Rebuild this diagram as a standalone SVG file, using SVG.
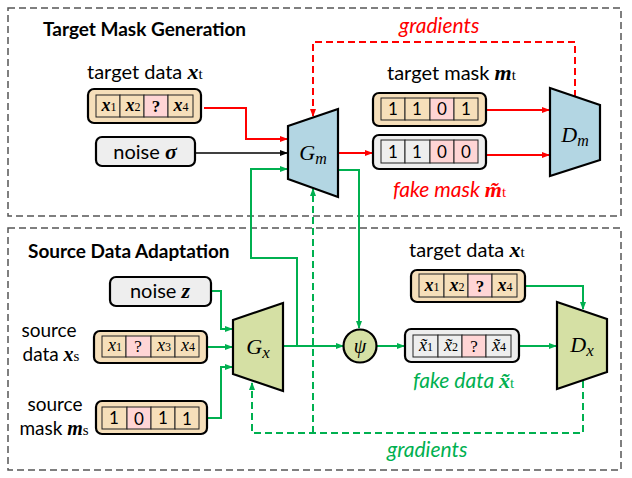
<svg xmlns="http://www.w3.org/2000/svg" width="632" height="478" viewBox="0 0 632 478">
<defs>
<style>
.frame{fill:none;stroke:#555;stroke-width:1.5;stroke-dasharray:7 4}
.title{font-family:Lato,"Liberation Sans",sans-serif;font-weight:bold;font-size:19px;fill:#000}
.lbl{font-family:Lato,"Liberation Sans",sans-serif;font-size:20px;fill:#000}
.lbl2{font-family:Lato,"Liberation Sans",sans-serif;font-size:19px;fill:#000}
.m{font-family:"Liberation Serif","DejaVu Serif",serif;font-style:italic}
.mb{font-family:"Liberation Serif","DejaVu Serif",serif;font-style:italic;font-weight:bold;font-size:22px}
.mb2{font-family:"Liberation Serif","DejaVu Serif",serif;font-style:italic;font-weight:bold;font-size:20px}
.sub{font-family:"Liberation Serif",serif;font-size:15px;font-style:normal;font-weight:normal}
.outer{stroke:#000;stroke-width:2.2}
.wheat{fill:#F6DFBA}
.grey{fill:#EEEEEE}
.cell{stroke:#222;stroke-width:1;fill:#F6DFBA}
.cellg{stroke:#222;stroke-width:1;fill:#EEEEEE}
.cellp{stroke:#222;stroke-width:1;fill:#FFD5D5}
.ct{font-family:"Liberation Serif",serif;font-size:17px;text-anchor:middle;fill:#000}
.cx{font-family:"Liberation Serif",serif;font-style:italic;font-weight:bold;font-size:18px}
.cxn{font-family:"Liberation Serif",serif;font-style:italic;font-size:18px}
.cs{font-size:12px;font-style:normal;font-weight:normal}
.cn{font-family:Lato,"Liberation Sans",sans-serif;font-size:17px;text-anchor:middle;fill:#000}
.net{stroke:#000;stroke-width:2.2}
.red{stroke:#FF0000;stroke-width:2;fill:none}
.blk{stroke:#000;stroke-width:1.6;fill:none}
.grn{stroke:#00B050;stroke-width:2;fill:none}
.rd{stroke:#FF0000;stroke-width:2;fill:none;stroke-dasharray:7 4}
.gd{stroke:#00B050;stroke-width:2;fill:none;stroke-dasharray:7 4}
.it{font-family:Lato,"Liberation Sans",sans-serif;font-style:italic;font-size:21px}
</style>
<marker id="ar" markerWidth="8" markerHeight="8" refX="7" refY="4" orient="auto" markerUnits="userSpaceOnUse"><path d="M0,1 L8,4 L0,7 Z" fill="#FF0000"/></marker>
<marker id="ab" markerWidth="8" markerHeight="8" refX="7" refY="4" orient="auto" markerUnits="userSpaceOnUse"><path d="M0,1 L8,4 L0,7 Z" fill="#000"/></marker>
<marker id="ag" markerWidth="8" markerHeight="8" refX="7" refY="4" orient="auto" markerUnits="userSpaceOnUse"><path d="M0,1 L8,4 L0,7 Z" fill="#00B050"/></marker>
</defs>
<rect width="632" height="478" fill="#fff"/>

<g id="frames">
<rect class="frame" x="8" y="8" width="613" height="208"/>
<rect class="frame" x="8" y="228" width="613" height="242"/>
<text class="title" x="43" y="36">Target Mask Generation</text>
<text class="title" x="28" y="258">Source Data Adaptation</text>
</g>

<g id="connectors">
<polyline class="red" points="204,108 246,108 246,139 287,139" marker-end="url(#ar)"/>
<line class="blk" x1="195" y1="153" x2="287" y2="153" marker-end="url(#ab)"/>
<polyline class="grn" points="297,346 297,258 251,258 251,169 287,169" marker-end="url(#ag)"/>
<line class="red" x1="338" y1="153" x2="372" y2="153" marker-end="url(#ar)"/>
<line class="red" x1="486" y1="110" x2="549" y2="110" marker-end="url(#ar)"/>
<line class="red" x1="486" y1="155" x2="549" y2="155" marker-end="url(#ar)"/>
<polyline class="rd" points="575,97 575,42 313,42 313,116" marker-end="url(#ar)"/>
<polyline class="grn" points="338,170 359,170 359,328" marker-end="url(#ag)"/>
<polyline class="grn" points="211,291 221,291 221,329 232,329" marker-end="url(#ag)"/>
<line class="grn" x1="207" y1="347" x2="232" y2="347" marker-end="url(#ag)"/>
<polyline class="grn" points="207,418 221,418 221,367 232,367" marker-end="url(#ag)"/>
<line class="grn" x1="283" y1="346" x2="343" y2="346" marker-end="url(#ag)"/>
<line class="grn" x1="377" y1="346" x2="404" y2="346" marker-end="url(#ag)"/>
<line class="grn" x1="519" y1="346" x2="556" y2="346" marker-end="url(#ag)"/>
<polyline class="grn" points="525,286 583,286 583,309" marker-end="url(#ag)"/>
<polyline class="gd" points="583,381 583,433 252,433 252,383" marker-end="url(#ag)"/>
<polyline class="gd" points="313,433 313,189" marker-end="url(#ag)"/>
<text class="it" x="399" y="33" fill="#FF0000">gradients</text>
<text class="it" x="387" y="457" fill="#00B050">gradients</text>
</g>

<g id="target-data-top">
<text class="lbl" x="87" y="79">target data <tspan class="mb">x</tspan><tspan class="sub">t</tspan></text>
<rect class="outer wheat" x="88" y="89" width="113" height="34" rx="6"/>
<rect class="cell" x="96" y="95" width="24" height="22"/>
<rect class="cell" x="120" y="95" width="24" height="22"/>
<rect class="cellp" x="144" y="95" width="24" height="22"/>
<rect class="cell" x="168" y="95" width="25" height="22"/>
<text class="ct" x="109" y="111"><tspan class="cx">x</tspan><tspan class="cs">1</tspan></text>
<text class="ct" x="133" y="111"><tspan class="cx">x</tspan><tspan class="cs">2</tspan></text>
<text class="ct" x="156" y="112" font-weight="bold">?</text>
<text class="ct" x="181" y="111"><tspan class="cx">x</tspan><tspan class="cs">4</tspan></text>
</g>

<g id="noise-sigma">
<rect class="outer grey" x="96" y="137" width="99" height="29" rx="6"/>
<text class="lbl" x="145" y="159" text-anchor="middle">noise <tspan class="mb">σ</tspan></text>
</g>

<g id="Gm">
<polygon class="net" points="288,126 338,109 338,197 288,179" fill="#B3D6E3"/>
<text class="m" x="313" y="160" font-size="22" text-anchor="middle">G<tspan font-size="16" dy="4">m</tspan></text>
</g>

<g id="target-mask">
<text class="lbl" x="387" y="80">target mask <tspan class="mb">m</tspan><tspan class="sub">t</tspan></text>
<rect class="outer wheat" x="373" y="93" width="113" height="33" rx="6"/>
<rect class="cell" x="381" y="98" width="24" height="22"/>
<rect class="cell" x="405" y="98" width="25" height="22"/>
<rect class="cellp" x="430" y="98" width="24" height="22"/>
<rect class="cell" x="454" y="98" width="24" height="22"/>
<text class="cn" x="393" y="115">1</text>
<text class="cn" x="417" y="115">1</text>
<text class="cn" x="442" y="115">0</text>
<text class="cn" x="466" y="115">1</text>
</g>

<g id="fake-mask">
<rect class="outer grey" x="373" y="135" width="113" height="34" rx="6"/>
<rect class="cellg" x="381" y="140" width="24" height="23"/>
<rect class="cellg" x="405" y="140" width="25" height="23"/>
<rect class="cellp" x="430" y="140" width="24" height="23"/>
<rect class="cellp" x="454" y="140" width="24" height="23"/>
<text class="cn" x="393" y="158">1</text>
<text class="cn" x="417" y="158">1</text>
<text class="cn" x="442" y="158">0</text>
<text class="cn" x="466" y="158">0</text>
<text class="it" x="393" y="197" fill="#FF0000">fake mask <tspan class="mb">m̃</tspan><tspan class="sub">t</tspan></text>
</g>

<g id="Dm">
<polygon class="net" points="550,88 600,105 600,160 550,176" fill="#B3D6E3"/>
<text class="m" x="575" y="142" font-size="22" text-anchor="middle">D<tspan font-size="16" dy="4">m</tspan></text>
</g>

<g id="noise-z">
<rect class="outer grey" x="110" y="277" width="101" height="29" rx="6"/>
<text class="lbl" x="160" y="298" text-anchor="middle">noise <tspan class="mb">z</tspan></text>
</g>

<g id="source-data">
<text class="lbl2" x="49" y="337" text-anchor="middle">source</text>
<text class="lbl2" x="51" y="361" text-anchor="middle">data <tspan class="mb2">x</tspan><tspan class="sub">s</tspan></text>
<rect class="outer wheat" x="94" y="331" width="113" height="32" rx="6"/>
<rect class="cell" x="102" y="336" width="24" height="21"/>
<rect class="cellp" x="126" y="336" width="25" height="21"/>
<rect class="cell" x="151" y="336" width="24" height="21"/>
<rect class="cell" x="175" y="336" width="24" height="21"/>
<text class="ct" x="115" y="351"><tspan class="cxn">x</tspan><tspan class="cs">1</tspan></text>
<text class="ct" x="138" y="352">?</text>
<text class="ct" x="164" y="351"><tspan class="cxn">x</tspan><tspan class="cs">3</tspan></text>
<text class="ct" x="188" y="351"><tspan class="cxn">x</tspan><tspan class="cs">4</tspan></text>
</g>

<g id="source-mask">
<text class="lbl2" x="55" y="411" text-anchor="middle">source</text>
<text class="lbl2" x="54" y="435" text-anchor="middle">mask <tspan class="mb2">m</tspan><tspan class="sub">s</tspan></text>
<rect class="outer wheat" x="96" y="401" width="111" height="33" rx="6"/>
<rect class="cell" x="102" y="407" width="25" height="22"/>
<rect class="cellp" x="127" y="407" width="24" height="22"/>
<rect class="cell" x="151" y="407" width="24" height="22"/>
<rect class="cell" x="175" y="407" width="24" height="22"/>
<text class="cn" x="114" y="424">1</text>
<text class="cn" x="139" y="425">0</text>
<text class="cn" x="163" y="424">1</text>
<text class="cn" x="187" y="425">1</text>
</g>

<g id="Gx">
<polygon class="net" points="233,320 283,303 283,391 233,374" fill="#D5E0A4"/>
<text class="m" x="258" y="354" font-size="22" text-anchor="middle">G<tspan font-size="17" dy="4">x</tspan></text>
</g>

<g id="psi">
<circle class="net" cx="360" cy="346" r="16.5" fill="#D5E0A4"/>
<text class="m" x="360" y="353" font-size="20" text-anchor="middle">ψ</text>
</g>

<g id="target-data-bottom">
<text class="lbl" x="409" y="257">target data <tspan class="mb">x</tspan><tspan class="sub">t</tspan></text>
<rect class="outer wheat" x="411" y="270" width="114" height="32" rx="6"/>
<rect class="cell" x="419" y="274" width="25" height="23"/>
<rect class="cell" x="444" y="274" width="24" height="23"/>
<rect class="cellp" x="468" y="274" width="24" height="23"/>
<rect class="cell" x="492" y="274" width="25" height="23"/>
<text class="ct" x="432" y="291"><tspan class="cx">x</tspan><tspan class="cs">1</tspan></text>
<text class="ct" x="457" y="291"><tspan class="cx">x</tspan><tspan class="cs">2</tspan></text>
<text class="ct" x="480" y="292" font-weight="bold">?</text>
<text class="ct" x="505" y="291"><tspan class="cx">x</tspan><tspan class="cs">4</tspan></text>
</g>

<g id="fake-data">
<rect class="outer grey" x="405" y="329" width="114" height="33" rx="6"/>
<rect class="cellg" x="413" y="335" width="25" height="22"/>
<rect class="cellg" x="438" y="335" width="24" height="22"/>
<rect class="cellp" x="462" y="335" width="24" height="22"/>
<rect class="cellg" x="486" y="335" width="25" height="22"/>
<text class="ct" x="426" y="351"><tspan class="cxn">x̃</tspan><tspan class="cs">1</tspan></text>
<text class="ct" x="451" y="351"><tspan class="cxn">x̃</tspan><tspan class="cs">2</tspan></text>
<text class="ct" x="474" y="352">?</text>
<text class="ct" x="499" y="351"><tspan class="cxn">x̃</tspan><tspan class="cs">4</tspan></text>
<text class="it" x="413" y="388" fill="#00B050">fake data <tspan class="mb">x̃</tspan><tspan class="sub">t</tspan></text>
</g>

<g id="Dx">
<polygon class="net" points="557,302 607,319 607,372 557,389" fill="#D5E0A4"/>
<text class="m" x="582" y="352" font-size="22" text-anchor="middle">D<tspan font-size="17" dy="4">x</tspan></text>
</g>
</svg>
